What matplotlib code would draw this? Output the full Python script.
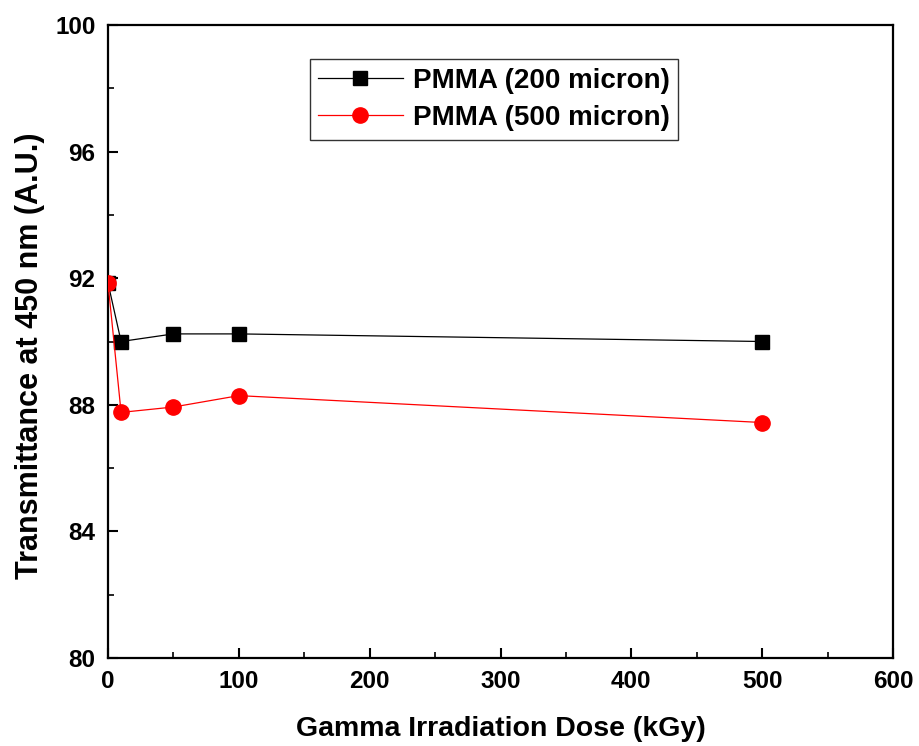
import matplotlib
matplotlib.use("Agg")
import matplotlib.pyplot as plt
from matplotlib.ticker import MultipleLocator

dose = [0, 10, 50, 100, 500]
pmma_200 = [91.85, 90.0, 90.24, 90.24, 90.0]
pmma_500 = [91.85, 87.76, 87.93, 88.29, 87.44]
labels = ["PMMA (200 micron)", "PMMA (500 micron)"]

plt.rcParams['font.family'] = ['Liberation Sans', 'DejaVu Sans']
plt.rcParams['font.weight'] = 'bold'

fig = plt.figure(figsize=(9.19, 7.46), dpi=100)
ax = fig.add_axes([108/919, 88/746, 785/919, 633/746])

ax.plot(dose, pmma_200, color='black', lw=0.9, marker='s', ms=9.5, label=labels[0], zorder=3)
ax.plot(dose, pmma_500, color='red', lw=0.9, marker='o', ms=11, label=labels[1], zorder=4)

ax.set_xlim(0, 600)
ax.set_ylim(80, 100)
ax.xaxis.set_major_locator(MultipleLocator(100))
ax.xaxis.set_minor_locator(MultipleLocator(50))
ax.yaxis.set_major_locator(MultipleLocator(4))
ax.yaxis.set_minor_locator(MultipleLocator(2))
ax.tick_params(which='major', direction='in', length=7, width=1.5, labelsize=17.5, pad=9)
ax.tick_params(which='minor', direction='in', length=4, width=1.2)
for lab in ax.get_xticklabels() + ax.get_yticklabels():
    lab.set_fontweight('bold')
for s in ax.spines.values():
    s.set_linewidth(1.6)

ax.set_xlabel("Gamma Irradiation Dose (kGy)", fontsize=20.5, fontweight='bold', labelpad=16)
ax.set_ylabel("Transmittance at 450 nm (A.U.)", fontsize=22, fontweight='bold')
ax.yaxis.set_label_coords(-0.0802, 0.477)

leg = ax.legend(loc='upper left', bbox_to_anchor=(0.257, 0.946), fontsize=20,
                frameon=True, fancybox=False, edgecolor='black', handlelength=3.05,
                borderpad=0.3, labelspacing=0.42, handletextpad=0.35, borderaxespad=0)
leg.get_frame().set_linewidth(1.0)
for t in leg.get_texts():
    t.set_fontweight('bold')

fig.savefig("out.png", dpi=100)
